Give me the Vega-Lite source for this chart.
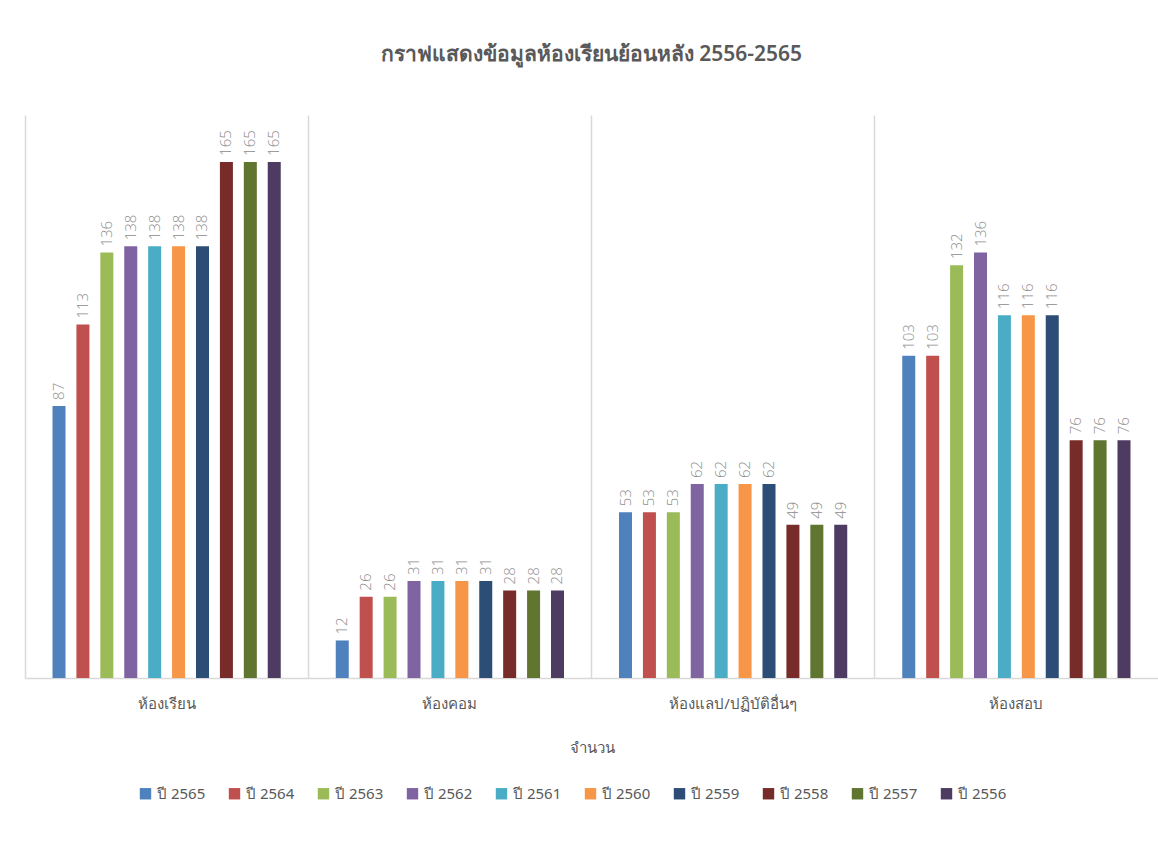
{
  "$schema": "https://vega.github.io/schema/vega-lite/v6.json",
  "width": 1133,
  "height": 563,
  "autosize": {"type": "none"},
  "padding": {"left": 25, "top": 115, "right": 0, "bottom": 168},
  "background": "white",
  "config": {
    "view": {"stroke": null},
    "font": "Noto Sans, sans-serif"
  },
  "title": {
    "text": "กราฟแสดงข้อมูลห้องเรียนย้อนหลัง 2556-2565",
    "anchor": "middle",
    "fontSize": 21,
    "fontWeight": 600,
    "color": "#595959",
    "offset": 50
  },
  "data": {
    "values": [
      {"room": "ห้องเรียน", "year": "ปี 2565", "value": 87},
      {"room": "ห้องเรียน", "year": "ปี 2564", "value": 113},
      {"room": "ห้องเรียน", "year": "ปี 2563", "value": 136},
      {"room": "ห้องเรียน", "year": "ปี 2562", "value": 138},
      {"room": "ห้องเรียน", "year": "ปี 2561", "value": 138},
      {"room": "ห้องเรียน", "year": "ปี 2560", "value": 138},
      {"room": "ห้องเรียน", "year": "ปี 2559", "value": 138},
      {"room": "ห้องเรียน", "year": "ปี 2558", "value": 165},
      {"room": "ห้องเรียน", "year": "ปี 2557", "value": 165},
      {"room": "ห้องเรียน", "year": "ปี 2556", "value": 165},
      {"room": "ห้องคอม", "year": "ปี 2565", "value": 12},
      {"room": "ห้องคอม", "year": "ปี 2564", "value": 26},
      {"room": "ห้องคอม", "year": "ปี 2563", "value": 26},
      {"room": "ห้องคอม", "year": "ปี 2562", "value": 31},
      {"room": "ห้องคอม", "year": "ปี 2561", "value": 31},
      {"room": "ห้องคอม", "year": "ปี 2560", "value": 31},
      {"room": "ห้องคอม", "year": "ปี 2559", "value": 31},
      {"room": "ห้องคอม", "year": "ปี 2558", "value": 28},
      {"room": "ห้องคอม", "year": "ปี 2557", "value": 28},
      {"room": "ห้องคอม", "year": "ปี 2556", "value": 28},
      {"room": "ห้องแลป/ปฏิบัติอื่นๆ", "year": "ปี 2565", "value": 53},
      {"room": "ห้องแลป/ปฏิบัติอื่นๆ", "year": "ปี 2564", "value": 53},
      {"room": "ห้องแลป/ปฏิบัติอื่นๆ", "year": "ปี 2563", "value": 53},
      {"room": "ห้องแลป/ปฏิบัติอื่นๆ", "year": "ปี 2562", "value": 62},
      {"room": "ห้องแลป/ปฏิบัติอื่นๆ", "year": "ปี 2561", "value": 62},
      {"room": "ห้องแลป/ปฏิบัติอื่นๆ", "year": "ปี 2560", "value": 62},
      {"room": "ห้องแลป/ปฏิบัติอื่นๆ", "year": "ปี 2559", "value": 62},
      {"room": "ห้องแลป/ปฏิบัติอื่นๆ", "year": "ปี 2558", "value": 49},
      {"room": "ห้องแลป/ปฏิบัติอื่นๆ", "year": "ปี 2557", "value": 49},
      {"room": "ห้องแลป/ปฏิบัติอื่นๆ", "year": "ปี 2556", "value": 49},
      {"room": "ห้องสอบ", "year": "ปี 2565", "value": 103},
      {"room": "ห้องสอบ", "year": "ปี 2564", "value": 103},
      {"room": "ห้องสอบ", "year": "ปี 2563", "value": 132},
      {"room": "ห้องสอบ", "year": "ปี 2562", "value": 136},
      {"room": "ห้องสอบ", "year": "ปี 2561", "value": 116},
      {"room": "ห้องสอบ", "year": "ปี 2560", "value": 116},
      {"room": "ห้องสอบ", "year": "ปี 2559", "value": 116},
      {"room": "ห้องสอบ", "year": "ปี 2558", "value": 76},
      {"room": "ห้องสอบ", "year": "ปี 2557", "value": 76},
      {"room": "ห้องสอบ", "year": "ปี 2556", "value": 76}
    ]
  },
  "encoding": {
    "x": {
      "field": "room",
      "type": "nominal",
      "sort": null,
      "scale": {"paddingInner": 0, "paddingOuter": 0},
      "axis": {
        "title": "จำนวน",
        "titleFontSize": 15,
        "titleFontWeight": "normal",
        "titleColor": "#595959",
        "titlePadding": 29,
        "labelFontSize": 15,
        "labelColor": "#595959",
        "labelAngle": 0,
        "labelPadding": 18,
        "ticks": false,
        "domainColor": "#d9d9d9",
        "domainWidth": 1.5,
        "grid": true,
        "gridColor": "#d9d9d9",
        "gridWidth": 1.5,
        "bandPosition": 0
      }
    },
    "xOffset": {
      "field": "year",
      "type": "nominal",
      "scale": {
        "domain": ["<", "ปี 2565", "ปี 2564", "ปี 2563", "ปี 2562", "ปี 2561", "ปี 2560", "ปี 2559", "ปี 2558", "ปี 2557", "ปี 2556", ">"],
        "paddingInner": 0.456,
        "paddingOuter": 0.15
      }
    },
    "y": {
      "field": "value",
      "type": "quantitative",
      "scale": {"domain": [0, 180], "nice": false},
      "axis": null
    }
  },
  "layer": [
    {
      "mark": {"type": "rule", "color": "#d9d9d9", "strokeWidth": 1.5},
      "data": {"values": [{"room": "ห้องเรียน"}]},
      "encoding": {
        "x": {"field": "room", "type": "nominal", "bandPosition": 0},
        "xOffset": null,
        "y": {"datum": 180},
        "y2": {"datum": -29}
      }
    },
    {
      "mark": {"type": "bar"},
      "encoding": {
        "color": {
          "field": "year",
          "type": "nominal",
          "scale": {
            "domain": ["ปี 2565", "ปี 2564", "ปี 2563", "ปี 2562", "ปี 2561", "ปี 2560", "ปี 2559", "ปี 2558", "ปี 2557", "ปี 2556"],
            "range": ["#4F81BD", "#C0504D", "#9BBB59", "#8064A2", "#4BACC6", "#F79646", "#2C4D75", "#772C2A", "#5F7530", "#4D3B62"]
          },
          "legend": {
            "title": null,
            "orient": "none",
            "legendX": 113,
            "legendY": 671,
            "direction": "horizontal",
            "columns": 10,
            "symbolType": "square",
            "symbolSize": 130,
            "symbolStrokeWidth": 0,
            "labelFontSize": 15,
            "labelColor": "#595959",
            "columnPadding": 21,
            "gridAlign": "all"
          }
        }
      }
    },
    {
      "mark": {"type": "text", "angle": 270, "align": "left", "baseline": "middle", "dx": 6, "fontSize": 15, "font": "Open Sans", "fontWeight": 300, "color": "#8c8c8c"},
      "encoding": {
        "text": {"field": "value", "type": "quantitative"}
      }
    }
  ]
}
